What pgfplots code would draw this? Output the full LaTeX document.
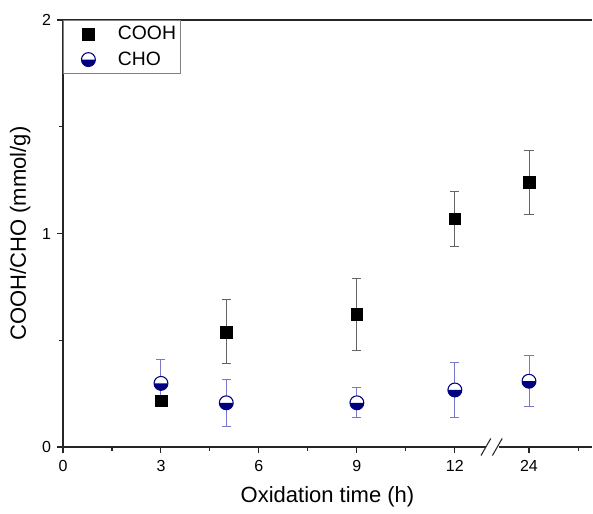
\documentclass[border=0pt]{standalone}
\usepackage{fontspec}
\setmainfont{Liberation Sans}
\usepackage{pgfplots}
\pgfplotsset{compat=1.18}
\definecolor{navyb}{RGB}{0,0,128}
\definecolor{errblue}{RGB}{120,120,205}
\definecolor{errgray}{RGB}{100,100,100}

\pgfdeclareplotmark{halfdown}{%
  \pgfpathcircle{\pgfpointorigin}{\pgfplotmarksize}%
  \pgfsetfillcolor{white}\pgfusepathqfill
  \pgfpathmoveto{\pgfqpoint{\pgfplotmarksize}{0pt}}%
  \pgfpatharc{0}{-180}{\pgfplotmarksize}%
  \pgfpathclose
  \pgfsetfillcolor{navyb}\pgfusepathqfill
  \pgfpathcircle{\pgfpointorigin}{\pgfplotmarksize}%
  \pgfusepathqstroke
}

\pgfplotstableread{
x y e
3 0.217 0
5 0.539 0.15
9 0.620 0.17
12 1.069 0.13
14.27 1.240 0.15
}\cooh

\pgfplotstableread{
x y e
3 0.298 0.11
5 0.207 0.11
9 0.207 0.07
12 0.267 0.13
14.27 0.308 0.12
}\cho

\begin{document}
\begin{tikzpicture}
\begin{axis}[
  scale only axis, width=396.75pt, height=320.25pt,
  at={(0,0)}, anchor=south west,
  xmin=0, xmax=16.2, ymin=0, ymax=2,
  clip=false,
  axis x line*=bottom, axis y line*=left,
  axis line style={-, line width=0.9pt, black!85},
  tick align=outside,
  major tick length=4.5pt, minor tick length=3pt,
  tick style={line width=0.8pt, black!85},
  xtick={0,3,6,9,12,14.27}, xticklabels={0,3,6,9,12,24},
  minor xtick={1.5,4.5,7.5,10.5,15.78},
  ytick={0,1,2}, minor ytick={0.5,1.5},
  /pgf/number format/assume math mode=true,
  ticklabel style={font=\fontsize{12}{14}\selectfont},
  xticklabel style={yshift=-2pt},
  yticklabel style={xshift=-1pt},
  xlabel={Oxidation time (h)},
  ylabel={COOH/CHO (mmol/g)},
  label style={font=\fontsize{16.5}{19}\selectfont},
  xlabel style={at={(axis description cs:0.5,-0.117)}, anchor=center},
  ylabel style={at={(axis description cs:-0.081,0.5)}, anchor=center},
  legend style={at={(rel axis cs:0,1)}, anchor=north west, draw=gray, line width=0.5pt,
    font=\fontsize{14.5}{17}\selectfont, inner xsep=1.5pt, inner ysep=2.5pt, row sep=3.5pt},
  legend cell align=left,
  legend image code/.code={%
    \path (0cm,0cm) (1.3cm,0cm);
    \draw[#1] plot coordinates {(0.6cm,0cm)};},
]
\addplot[only marks, mark=square*, mark size=4.4pt, black,
  error bars/.cd, y dir=both, y explicit, error mark=-,
  error bar style={errgray, line width=0.7pt},
  error mark options={rotate=90, errgray, mark size=3.4pt, line width=0.7pt}]
  table[x=x, y=y, y error=e]{\cooh};
\addlegendentry{COOH}
\addplot[only marks, mark=halfdown, mark size=5.2pt, navyb, mark options={line width=0.8pt},
  error bars/.cd, y dir=both, y explicit, error mark=-,
  error bar style={errblue, line width=0.7pt},
  error mark options={rotate=90, errblue, mark size=3.4pt, line width=0.7pt}]
  table[x=x, y=y, y error=e]{\cho};
\addlegendentry{CHO}
\draw[line width=0.9pt, black!85] (rel axis cs:0,1) -- (rel axis cs:1,1);
\fill[white] (axis cs:12.95,-0.02) rectangle (axis cs:13.35,0.02);
\draw[line width=0.8pt, black!85] (axis cs:12.8,-0.04) -- (axis cs:13.1,0.04);
\draw[line width=0.8pt, black!85] (axis cs:13.15,-0.04) -- (axis cs:13.45,0.04);
\end{axis}
\pgfresetboundingbox
\useasboundingbox (-47.25pt,-50.25pt) rectangle (397.5pt,335.25pt);
\end{tikzpicture}
\end{document}
